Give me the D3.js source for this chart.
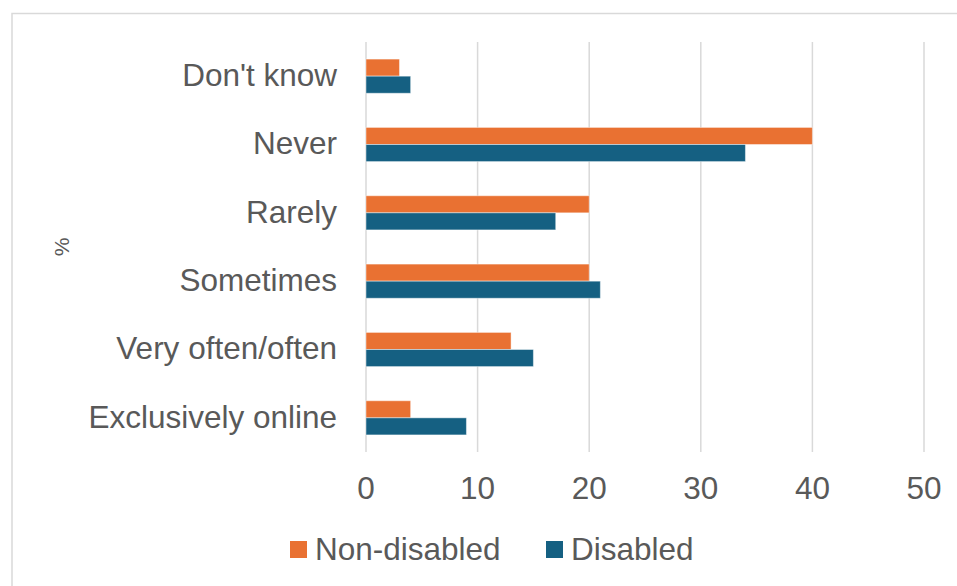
<!DOCTYPE html>
<html>
<head>
<meta charset="utf-8">
<script src="https://cdn.jsdelivr.net/npm/d3@7"></script>
<style>
  html, body { margin: 0; padding: 0; background: #fff; }
  svg { display: block; font-family: Arial, "Liberation Sans", sans-serif; }
</style>
</head>
<body>
<svg id="chart" width="957" height="586"></svg>
<script>
// Frequency of use, by disability status (%)
const categories = ["Don't know", "Never", "Rarely", "Sometimes", "Very often/often", "Exclusively online"];
const seriesNames = ["Non-disabled", "Disabled"];
const nonDisabled = [3, 40, 20, 20, 13, 4];
const disabled = [4, 34, 17, 21, 15, 9];
const xTicks = [0, 10, 20, 30, 40, 50];

const colors = { "Non-disabled": "#E97132", "Disabled": "#156082" };
const textColor = "#595959";
const gridColor = "#d9d9d9";

const svg = d3.select("#chart");

// Outer frame
svg.append("path")
  .attr("d", "M12,586 V13.5 H957")
  .attr("fill", "none")
  .attr("stroke", gridColor)
  .attr("stroke-width", 1.5);

const x = d3.scaleLinear().domain([0, 50]).range([366, 924]);
const y = d3.scaleBand().domain(categories).range([42, 452])
  .paddingInner(0.5).paddingOuter(0.25);
const ySub = d3.scaleBand().domain(seriesNames).range([0, y.bandwidth()]);

const plotTop = 42, plotBottom = 452;

// Vertical gridlines
svg.append("g")
  .selectAll("line")
  .data(xTicks)
  .join("line")
  .attr("x1", d => x(d)).attr("x2", d => x(d))
  .attr("y1", plotTop).attr("y2", plotBottom)
  .attr("stroke", gridColor)
  .attr("stroke-width", 1.5);

// Bars
const rows = categories.map((c, i) => ({
  category: c,
  values: [
    { series: "Non-disabled", value: nonDisabled[i] },
    { series: "Disabled", value: disabled[i] }
  ]
}));

svg.append("g")
  .selectAll("g")
  .data(rows)
  .join("g")
  .attr("transform", d => `translate(0,${y(d.category)})`)
  .selectAll("rect")
  .data(d => d.values)
  .join("rect")
  .attr("x", x(0))
  .attr("y", d => ySub(d.series))
  .attr("width", d => x(d.value) - x(0))
  .attr("height", ySub.bandwidth())
  .attr("fill", d => colors[d.series])
  .attr("stroke", "rgba(255,255,255,0.45)")
  .attr("stroke-width", 1);

// Category labels
svg.append("g")
  .selectAll("text")
  .data(categories)
  .join("text")
  .attr("x", 337)
  .attr("y", d => y(d) + y.bandwidth() / 2)
  .attr("dy", "0.31em")
  .attr("text-anchor", "end")
  .attr("fill", textColor)
  .attr("font-size", "31.5px")
  .text(d => d);

// X axis tick labels
svg.append("g")
  .selectAll("text")
  .data(xTicks)
  .join("text")
  .attr("x", d => x(d))
  .attr("y", 499)
  .attr("text-anchor", "middle")
  .attr("fill", textColor)
  .attr("font-size", "31.5px")
  .text(d => d);

// Axis title
svg.append("text")
  .attr("transform", "translate(69,247) rotate(-90)")
  .attr("text-anchor", "middle")
  .attr("fill", textColor)
  .attr("font-size", "21px")
  .text("%");

// Legend
const legendItems = [
  { name: "Non-disabled", x: 290 },
  { name: "Disabled", x: 546 }
];
const legend = svg.append("g").selectAll("g")
  .data(legendItems)
  .join("g")
  .attr("transform", d => `translate(${d.x},541)`);
legend.append("rect")
  .attr("width", 17).attr("height", 17)
  .attr("fill", d => colors[d.name]);
legend.append("text")
  .attr("x", 25)
  .attr("y", 8.5)
  .attr("dy", "0.34em")
  .attr("fill", textColor)
  .attr("font-size", "31.5px")
  .text(d => d.name);
</script>
</body>
</html>
